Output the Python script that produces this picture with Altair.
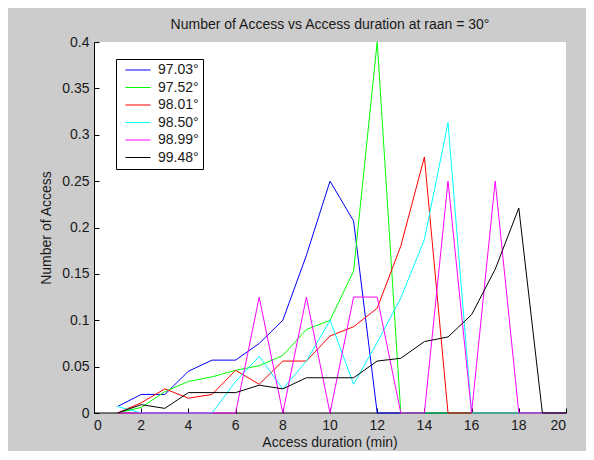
import altair as alt
import pandas as pd

durations = list(range(1, 21))
series_names = ["97.03°", "97.52°", "98.01°", "98.50°", "98.99°", "99.48°"]
series_colors = ["#0000ff", "#00ff00", "#ff0000", "#00ffff", "#ff00ff", "#000000"]

s_9703 = [0.007, 0.02, 0.02, 0.045, 0.057, 0.057, 0.075, 0.1, 0.17, 0.25,
          0.207, 0, 0, 0, 0, 0, 0, 0, 0, 0]
s_9752 = [0, 0.006, 0.023, 0.034, 0.039, 0.046, 0.051, 0.062, 0.09, 0.1,
          0.153, 0.4, 0, 0, 0, 0, 0, 0, 0, 0]
s_9801 = [0, 0.011, 0.026, 0.016, 0.02, 0.046, 0.031, 0.056, 0.056, 0.083,
          0.093, 0.113, 0.18, 0.276, 0, 0, 0, 0, 0, 0]
s_9850 = [0.007, 0, 0, 0, 0, 0.034, 0.061, 0.026, 0.056, 0.1,
          0.031, 0.076, 0.124, 0.187, 0.313, 0, 0, 0, 0, 0]
s_9899 = [0, 0, 0, 0, 0, 0, 0.125, 0, 0.125, 0,
          0.125, 0.125, 0, 0, 0.25, 0, 0.25, 0, 0, 0]
s_9948 = [0, 0.009, 0.005, 0.022, 0.022, 0.022, 0.03, 0.026, 0.038, 0.038,
          0.038, 0.056, 0.059, 0.077, 0.082, 0.106, 0.155, 0.221, 0, 0]

x_ticks = list(range(0, 21, 2))
y_ticks = [0, 0.05, 0.1, 0.15, 0.2, 0.25, 0.3, 0.35, 0.4]

all_series = [s_9703, s_9752, s_9801, s_9850, s_9899, s_9948]
rows = []
for order, (name, vals) in enumerate(zip(series_names, all_series)):
    for d, v in zip(durations, vals):
        rows.append({"duration": d, "access": v, "series": name, "order": order})
df = pd.DataFrame(rows)

FONT = "Liberation Sans"
TXT = "#1a1a1a"
FS = 14

x_scale = alt.Scale(domain=[0, 20], nice=False, zero=False)
y_scale = alt.Scale(domain=[0, 0.4], nice=False)

lines = alt.Chart(df).mark_line(strokeWidth=1).encode(
    x=alt.X("duration:Q", scale=x_scale,
            axis=alt.Axis(orient="bottom", values=x_ticks, title="Access duration (min)",
                          ticks=False, tickSize=0, labelPadding=6, grid=False, zindex=0,
                          translate=0,
                          domainColor="#000000", labelFont=FONT, labelFontSize=FS,
                          labelColor=TXT, titleFont=FONT, titleFontSize=FS,
                          titleFontWeight="normal", titleColor=TXT, titlePadding=3)),
    y=alt.Y("access:Q", scale=y_scale,
            axis=alt.Axis(orient="left", values=y_ticks, format="~g", title="Number of Access",
                          ticks=False, tickSize=0, labelPadding=5, grid=False, zindex=0,
                          domainColor="#000000", labelFont=FONT, labelFontSize=FS,
                          labelColor=TXT, titleFont=FONT, titleFontSize=FS,
                          titleFontWeight="normal", titleColor=TXT, titlePadding=8)),
    color=alt.Color("series:N",
                    scale=alt.Scale(domain=series_names, range=series_colors),
                    legend=alt.Legend(title=None, orient="none", legendX=22, legendY=17,
                                      strokeColor="#000000", fillColor="#ffffff",
                                      padding=4, cornerRadius=0,
                                      symbolType="M-2.5,0H2.5", symbolSize=100,
                                      symbolStrokeWidth=1, symbolOffset=11,
                                      labelOffset=13, rowPadding=3.5, labelFont=FONT,
                                      labelFontSize=FS, labelColor=TXT)),
    order=alt.Order("order:Q"),
)

tick_layer = alt.Chart(df).mark_point(opacity=0).encode(
    x=alt.X("duration:Q", scale=x_scale,
            axis=alt.Axis(orient="top", values=x_ticks, offset=-371, labels=False,
                          domain=False, title=None, ticks=True, tickSize=5, zindex=0,
                          tickColor="#000000", grid=False)),
    y=alt.Y("access:Q", scale=y_scale,
            axis=alt.Axis(orient="right", values=y_ticks, offset=-472, labels=False,
                          domain=False, title=None, ticks=True, tickSize=5, zindex=0,
                          tickColor="#000000", grid=False)),
)

chart = alt.layer(lines, tick_layer).resolve_axis(x="independent", y="independent").properties(
    width=472,
    height=371,
    padding={"left": 86, "top": 34, "right": 20, "bottom": 38},
    autosize=alt.AutoSizeParams(type="none"),
    background="#cccccc",
    title=alt.TitleParams(text="Number of Access vs Access duration at raan = 30°",
                          font=FONT, fontSize=FS, fontWeight="normal", color=TXT,
                          offset=3, anchor="middle"),
).configure_view(fill="#ffffff", stroke=None)

chart.save("out.html", embed_options={"renderer": "svg", "actions": False})
